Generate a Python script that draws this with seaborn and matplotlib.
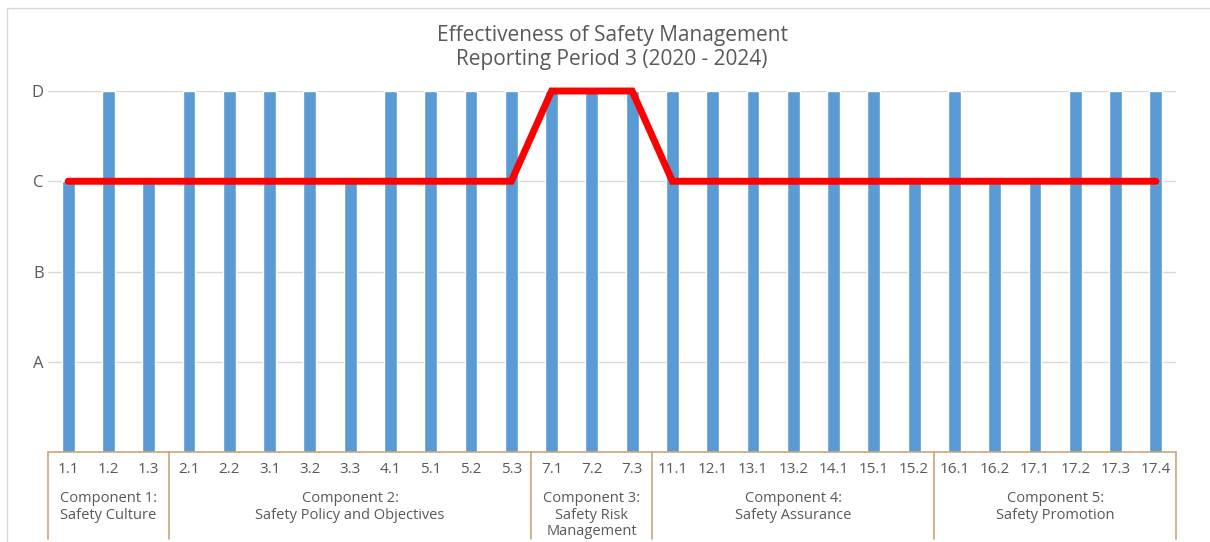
import matplotlib
matplotlib.use("Agg")
import matplotlib.pyplot as plt
from matplotlib.lines import Line2D
import seaborn as sns
import pandas as pd

categories = ["1.1", "1.2", "1.3", "2.1", "2.2", "3.1", "3.2", "3.3", "4.1", "5.1",
              "5.2", "5.3", "7.1", "7.2", "7.3", "11.1", "12.1", "13.1", "13.2", "14.1",
              "15.1", "15.2", "16.1", "16.2", "17.1", "17.2", "17.3", "17.4"]
bar_values = [3, 4, 3, 4, 4, 4, 4, 3, 4, 4,
              4, 4, 4, 4, 4, 4, 4, 4, 4, 4,
              4, 3, 4, 3, 3, 4, 4, 4]
line_values = [3, 3, 3, 3, 3, 3, 3, 3, 3, 3,
               3, 3, 4, 4, 4, 3, 3, 3, 3, 3,
               3, 3, 3, 3, 3, 3, 3, 3]
level_ticks = [1, 2, 3, 4]
level_labels = ["A", "B", "C", "D"]
groups = ["Component 1:\nSafety Culture",
          "Component 2:\nSafety Policy and Objectives",
          "Component 3:\nSafety Risk\nManagement",
          "Component 4:\nSafety Assurance",
          "Component 5:\nSafety Promotion"]
group_sizes = [3, 9, 3, 7, 6]
title = "Effectiveness of Safety Management\nReporting Period 3 (2020 - 2024)"

sns.set_style("white")
plt.rcParams["font.family"] = ["Open Sans", "DejaVu Sans"]
TXT = "#595959"
TAN = "#C9A57C"

df = pd.DataFrame({"item": categories, "level": bar_values})

fig = plt.figure(figsize=(12.10, 5.42), dpi=100)
ax = fig.add_axes([48/1210, 1 - 452/542, (1176 - 48)/1210, (452 - 91)/542])

sns.barplot(data=df, x="item", y="level", order=categories, color="#5B9BD5",
            saturation=1, width=0.32, ax=ax, zorder=2)
ax.plot(range(len(categories)), line_values, color="#FF0000", lw=5,
        solid_capstyle="round", solid_joinstyle="miter", zorder=3, clip_on=False)

ax.set_xlim(-0.5, len(categories) - 0.5)
ax.set_ylim(0, 4)
ax.set_yticks(level_ticks)
ax.set_yticklabels(level_labels)
ax.yaxis.grid(True, color="#D9D9D9", lw=1, zorder=0)
ax.set_axisbelow(True)
for s in ax.spines.values():
    s.set_visible(False)
ax.tick_params(axis="y", length=0, pad=3, labelsize=12, labelcolor=TXT)
ax.tick_params(axis="x", length=0, pad=7, labelsize=11, labelcolor=TXT)
ax.set_xlabel("")
ax.set_ylabel("")

# category group box below the axis
trans = ax.get_xaxis_transform()
ax.add_line(Line2D([-0.5, len(categories) - 0.5], [0, 0], transform=trans,
                   color=TAN, lw=1.2, clip_on=False, zorder=4))
edge = -0.5
bounds = [edge]
for n in group_sizes:
    edge += n
    bounds.append(edge)
for b in bounds:
    ax.add_line(Line2D([b, b], [0, -0.24], transform=trans, color=TAN, lw=1.2,
                       clip_on=False))
for g, lo, hi in zip(groups, bounds[:-1], bounds[1:]):
    ax.text((lo + hi) / 2, -0.108, g, transform=trans, ha="center", va="top",
            fontsize=10.5, color=TXT, linespacing=1.15)

# outer frame
fig.add_artist(Line2D([7/1210, 1], [1 - 8/542, 1 - 8/542], transform=fig.transFigure,
                      color="#D9D9D9", lw=1))
fig.add_artist(Line2D([7/1210, 7/1210], [0, 1 - 8/542], transform=fig.transFigure,
                      color="#D9D9D9", lw=1))

fig.text(612/1210, 1 - 25/542, title, ha="center", va="top", fontsize=15,
         color=TXT, linespacing=1.2)

fig.savefig("out.png", dpi=100)
